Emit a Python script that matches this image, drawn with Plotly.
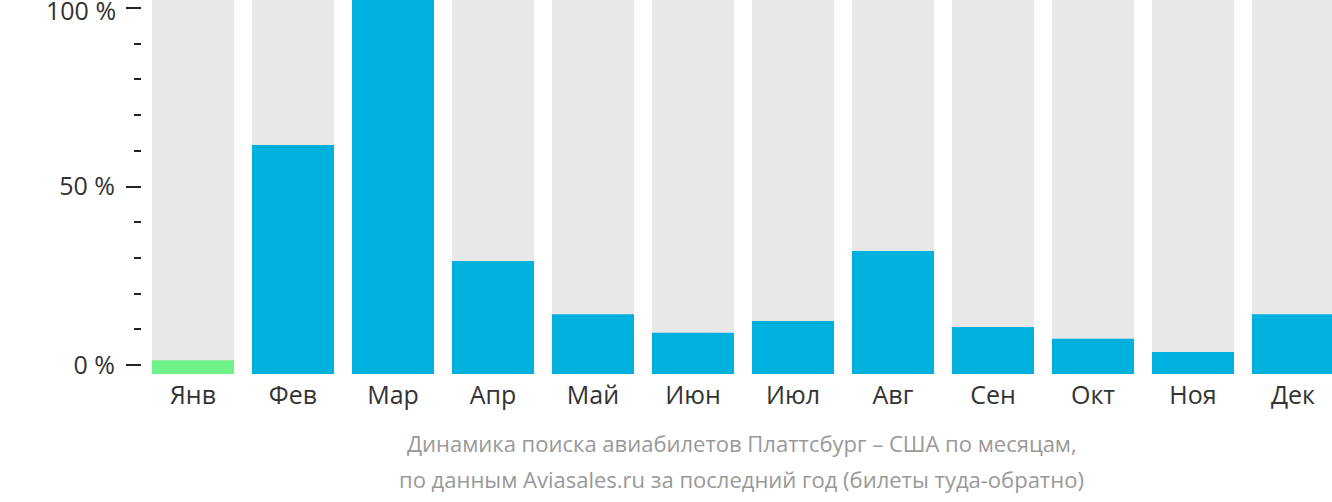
import plotly.graph_objects as go

months = ["Янв", "Фев", "Мар", "Апр", "Май", "Июн", "Июл", "Авг", "Сен", "Окт", "Ноя", "Дек"]
values = [3.7, 61.2, 100, 30.2, 16.0, 11.0, 14.2, 32.9, 12.6, 9.4, 5.9, 16.0]
background = [100] * 12
highlight_index = 0
tick_values = [0, 50, 100]
tick_labels = ["0 %", "50 %", "100 %"]
title_lines = [
    "Динамика поиска авиабилетов Платтсбург – США по месяцам,",
    "по данным Aviasales.ru за последний год (билеты туда-обратно)",
]

BLUE = "#00b1de"
GREEN = "#6ff28a"
GRAY = "#e8e8e8"
FONT = "Open Sans"

colors = [GREEN if i == highlight_index else BLUE for i in range(len(months))]

fig = go.Figure()
fig.add_trace(go.Scatter(x=[months[0]], y=[0], mode="markers", marker=dict(opacity=0),
                         showlegend=False, hoverinfo="skip", yaxis="y"))
fig.add_trace(go.Bar(x=months, y=background, marker=dict(color=GRAY, line=dict(width=0)),
                     width=0.82, yaxis="y2", showlegend=False, hoverinfo="skip"))
fig.add_trace(go.Bar(x=months, y=values, marker=dict(color=colors, line=dict(width=0)),
                     width=0.82, yaxis="y2", showlegend=False))

# top tick label is drawn as an annotation nudged slightly down so it is not clipped
axis_text = tick_labels[:-1] + [""]

fig.update_layout(
    width=1332, height=502,
    margin=dict(l=142, r=0, t=0, b=128, pad=0, autoexpand=False),
    paper_bgcolor="white", plot_bgcolor="white",
    barmode="overlay",
    font=dict(family=FONT, size=25, color="#333333"),
    xaxis=dict(type="category", range=[-0.51, 11.39], showgrid=False, zeroline=False,
               showline=False, ticks="", tickfont=dict(size=25, color="#333333"),
               categoryorder="array", categoryarray=months, automargin=False,
               ticklabelstandoff=4),
    yaxis=dict(range=[-2.52, 102.24], tickvals=tick_values, ticktext=axis_text,
               ticks="outside", ticklen=15, tickwidth=2, tickcolor="#222222",
               minor=dict(ticks="outside", ticklen=7, tickwidth=2, tickcolor="#222222", dtick=10, tick0=0),
               showgrid=False, zeroline=False, showline=False, automargin=False,
               ticklabeloverflow="allow",
               tickfont=dict(size=25, color="#333333"), ticklabelstandoff=6),
    yaxis2=dict(range=[0, 100], overlaying="y", visible=False, showgrid=False, zeroline=False),
)

fig.add_annotation(text=tick_labels[-1], xref="paper", yref="y", x=-0.0205, y=tick_values[-1],
                   xanchor="right", yanchor="middle", yshift=-2, showarrow=False,
                   font=dict(family=FONT, size=25, color="#333333"))

for i, line in enumerate(title_lines):
    fig.add_annotation(text=line, xref="paper", yref="paper", x=0.504, y=-0.1845 - i * 0.0963,
                       xanchor="center", yanchor="middle", showarrow=False,
                       font=dict(family=FONT, size=22, color="#999999"))

fig.write_html("out.html", config={"displayModeBar": False},
               post_script="document.body.style.margin='0';document.body.style.padding='0';")
